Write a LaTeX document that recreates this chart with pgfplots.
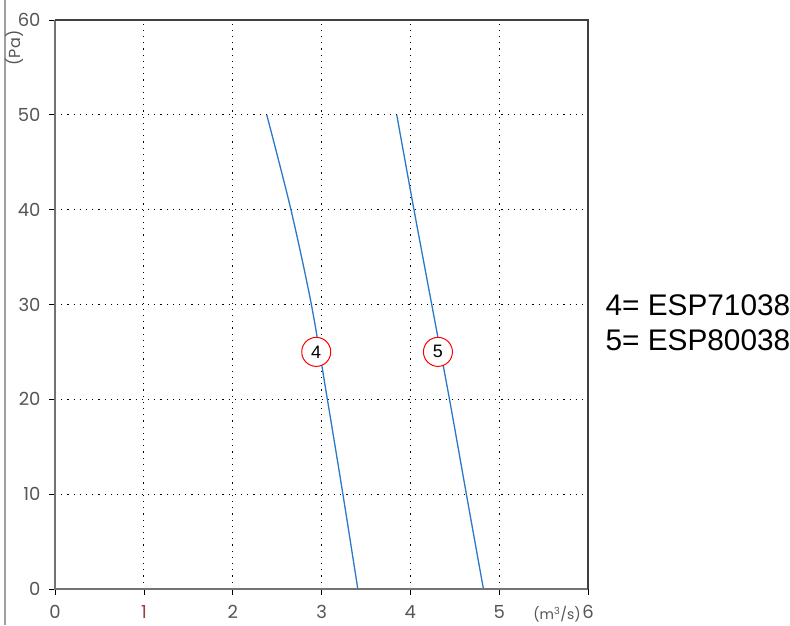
\documentclass[border=0pt]{standalone}
\usepackage{pgfplots}
\pgfplotsset{compat=1.18}
\usepackage{fontspec}
\setmainfont{Poppins}
\newfontfamily\arial{Liberation Sans}
\definecolor{tickgray}{HTML}{555555}
\definecolor{onered}{HTML}{A0403C}
\definecolor{curveblue}{HTML}{2A78C8}
\begin{document}
\begin{tikzpicture}[x=1pt,y=1pt]
\useasboundingbox (0,0) rectangle (790,625);
\draw[gray!75, line width=2.5pt] (5,0) -- (5,625);
\begin{axis}[
  at={(62,38)}, anchor=south west,
  scale only axis, width=533pt, height=569pt,
  xmin=0, xmax=6, ymin=0, ymax=60,
  xtick={0,1,2,3,4,5,6}, ytick={0,10,20,30,40,50,60},
  xticklabels={0,\textcolor{onered}{1},2,3,4,5,6},
  /pgf/number format/assume math mode=true,
  ticklabel style={font=\fontsize{18}{18}\selectfont, text=tickgray},
  xticklabel style={yshift=-7pt},
  yticklabel style={xshift=-5pt},
  tick align=outside, major tick length=6pt,
  tick style={black, line width=0.8pt},
  xtick pos=bottom, ytick pos=left,
  grid=major,
  grid style={black, line width=0.9pt, dash pattern=on 1.2pt off 5pt},
  axis line style={draw=none},
  clip=false,
]
\addplot[curveblue, line width=1.3pt, smooth] coordinates {
(2.383,50) (2.655,40) (2.885,30) (3.065,20) (3.24,10) (3.408,0)};
\addplot[curveblue, line width=1.3pt, smooth] coordinates {
(3.846,50) (4.04,40) (4.24,30) (4.44,20) (4.63,10) (4.822,0)};
\addplot[only marks, mark=none, nodes near coords={4}, nodes near coords align={center},
  every node near coord/.style={circle, draw=red, line width=1pt, fill=white, minimum size=29pt, inner sep=0pt, text=black, font=\arial\fontsize{18}{18}\selectfont}]
  coordinates {(2.94,25)};
\addplot[only marks, mark=none, nodes near coords={5}, nodes near coords align={center},
  every node near coord/.style={circle, draw=red, line width=1pt, fill=white, minimum size=29pt, inner sep=0pt, text=black, font=\arial\fontsize{18}{18}\selectfont}]
  coordinates {(4.31,25)};
\draw[gray!90!black, line width=1.2pt] (rel axis cs:0,1) -- (rel axis cs:0,0) -- (rel axis cs:1,0);
\draw[black!75, line width=1.2pt] (rel axis cs:0,1) -- (rel axis cs:1,1) -- (rel axis cs:1,0);
\end{axis}
\node[rotate=90, text=tickgray, font=\fontsize{16}{16}\selectfont] at (15,577) {(Pa)};
\node[text=tickgray, font=\fontsize{14}{14}\selectfont] at (557,11) {(m\textsuperscript{3}/s)};
\node[anchor=west, align=left, font=\arial\fontsize{29.8}{35}\selectfont] at (602,302) {4= ESP71038\\5= ESP80038};
\end{tikzpicture}
\end{document}
